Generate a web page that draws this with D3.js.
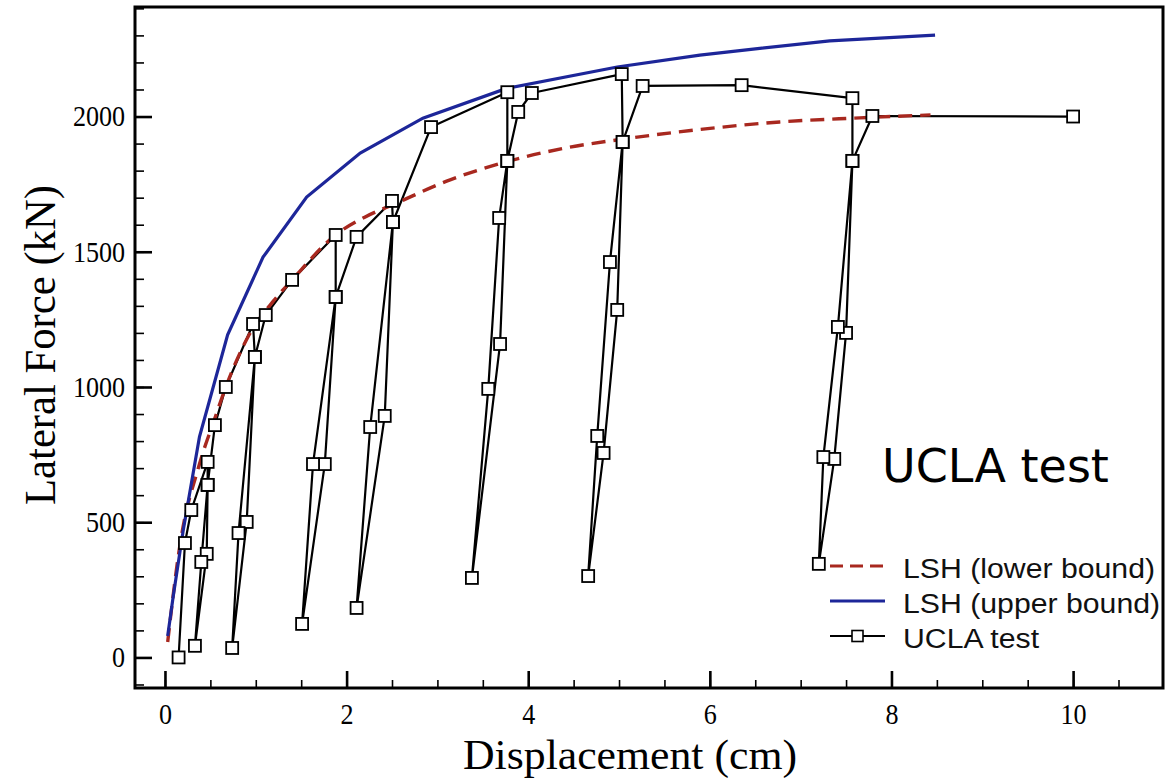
<!DOCTYPE html>
<html>
<head>
<meta charset="utf-8">
<script src="https://cdn.jsdelivr.net/npm/d3@7"></script>
<style>
  body { margin: 0; background: #fff; }
  .axis text { font-family: 'Liberation Serif', 'Times New Roman', serif; font-size: 29px; fill: #000; }
</style>
</head>
<body>
<div id="chart"></div>
<script>
// LSH upper bound (blue)
const upperX = [0.03, 0.09, 0.2, 0.38, 0.69, 1.08, 1.56, 2.15, 2.84, 3.77, 4.98, 5.89, 6.55, 7.32, 8.48]
const upperY = [79, 224, 468, 816, 1193, 1480, 1702, 1865, 1994, 2105, 2183, 2227, 2252, 2280, 2301]

// LSH lower bound (red dashed)
const lowerX = [0.03, 0.16, 0.38, 0.55, 0.67, 0.93, 1.2, 1.4, 1.89, 2.2, 2.55, 3.14, 3.72, 4.43, 5.01, 5.89, 6.77, 7.65, 8.43]
const lowerY = [57, 405, 715, 885, 1000, 1195, 1320, 1396, 1565, 1628, 1680, 1766, 1829, 1885, 1915, 1952, 1980, 1995, 2006]

// UCLA test, in loading order
const testX = [0.15, 0.22, 0.29, 0.47, 0.47, 0.46, 0.33, 0.40, 0.47, 0.55, 0.67, 0.97, 0.99, 0.90, 0.74, 0.81, 0.99, 1.11, 1.40, 1.88,
  1.88, 1.76, 1.51, 1.63, 1.88, 2.11, 2.50, 2.51, 2.42, 2.11, 2.26, 2.51, 2.93, 3.77, 3.77, 3.69, 3.38, 3.56, 3.68, 3.77,
  3.89, 4.04, 5.03, 5.04, 4.98, 4.83, 4.66, 4.76, 4.90, 5.04, 5.26, 6.35, 7.57, 7.57, 7.50, 7.37, 7.20, 7.25, 7.41, 7.57,
  7.79, 10.0]
const testY = [0, 423, 545, 723, 638, 383, 43, 353, 638, 859, 1000, 1233, 1111, 501, 35, 460, 1111, 1266, 1396, 1562,
  1333, 715, 124, 715, 1333, 1555, 1688, 1610, 893, 183, 852, 1610, 1961, 2090, 1836, 1159, 294, 993, 1625, 1836,
  2017, 2087, 2157, 1906, 1285, 756, 301, 819, 1462, 1906, 2113, 2116, 2068, 1836, 1200, 734, 346, 741, 1222, 1836,
  2002, 2000]

const xTicks = [0, 2, 4, 6, 8, 10]
const yTicks = [0, 500, 1000, 1500, 2000]
const legendLabels = ['LSH (lower bound)', 'LSH (upper bound)', 'UCLA test']

const red = '#a8281f'
const blue = '#1d2699'

const width = 1172
const height = 778
const plot = { left: 135, right: 1163, top: 7, bottom: 688 }

const svg = d3
  .select('#chart')
  .append('svg')
  .attr('width', width)
  .attr('height', height)

svg.append('rect').attr('width', width).attr('height', height).attr('fill', '#fff')

const x = d3.scaleLinear().domain([-0.33, 10.99]).range([plot.left, plot.right])
const y = d3.scaleLinear().domain([-113, 2405]).range([plot.bottom, plot.top])

// minor ticks
svg
  .append('g')
  .attr('class', 'axis minor')
  .attr('transform', 'translate(0,' + plot.bottom + ')')
  .call(d3.axisBottom(x).tickValues(d3.range(0, 10.51, 0.5)).tickSize(-8).tickFormat(''))
svg
  .append('g')
  .attr('class', 'axis minor')
  .attr('transform', 'translate(' + plot.left + ',0)')
  .call(d3.axisLeft(y).tickValues(d3.range(-100, 2401, 100)).tickSize(-9).tickFormat(''))
svg.selectAll('.minor line').attr('stroke', '#000').attr('stroke-width', 1.6)
svg.selectAll('.minor text').remove()

// major ticks
const xAxis = d3.axisBottom(x).tickValues(xTicks).tickSizeInner(-17).tickSizeOuter(0).tickPadding(15).tickFormat(d3.format('d'))
svg
  .append('g')
  .attr('class', 'axis x-axis')
  .attr('transform', 'translate(0,' + plot.bottom + ')')
  .call(xAxis)

const yAxis = d3.axisLeft(y).tickValues(yTicks).tickSizeInner(-17).tickSizeOuter(0).tickPadding(11).tickFormat(d3.format('d'))
svg
  .append('g')
  .attr('class', 'axis y-axis')
  .attr('transform', 'translate(' + plot.left + ',0)')
  .call(yAxis)

svg.selectAll('.axis path').remove()
svg.selectAll('.x-axis line, .y-axis line').attr('stroke', '#000').attr('stroke-width', 2.6)
svg.selectAll('.x-axis text, .y-axis text').attr('transform', 'scale(0.9,1)')

// frame
svg
  .append('rect')
  .attr('x', plot.left)
  .attr('y', plot.top)
  .attr('width', plot.right - plot.left)
  .attr('height', plot.bottom - plot.top)
  .attr('fill', 'none')
  .attr('stroke', '#000')
  .attr('stroke-width', 3)

// titles
svg
  .append('text')
  .attr('x', 630)
  .attr('y', 768.5)
  .attr('text-anchor', 'middle')
  .attr('font-family', "'Liberation Serif', serif")
  .attr('font-size', 43)
  .attr('textLength', 334)
  .attr('lengthAdjust', 'spacingAndGlyphs')
  .text('Displacement (cm)')

svg
  .append('text')
  .attr('transform', 'translate(55,345) rotate(-90)')
  .attr('text-anchor', 'middle')
  .attr('font-family', "'Liberation Serif', serif")
  .attr('font-size', 45)
  .attr('textLength', 320)
  .attr('lengthAdjust', 'spacingAndGlyphs')
  .text('Lateral Force (kN)')

// UCLA test line
const test = testX.map((d, i) => ({ x: d, y: testY[i] }))
const line = d3.line().x(d => x(d.x)).y(d => y(d.y))

svg
  .append('path')
  .datum(test)
  .attr('d', line)
  .attr('fill', 'none')
  .attr('stroke', '#000')
  .attr('stroke-width', 2.2)
  .attr('stroke-linejoin', 'round')

// bounds
const lower = lowerX.map((d, i) => ({ x: d, y: lowerY[i] }))
svg
  .append('path')
  .datum(lower)
  .attr('d', line.curve(d3.curveMonotoneX))
  .attr('fill', 'none')
  .attr('stroke', red)
  .attr('stroke-width', 3.4)
  .attr('stroke-dasharray', '14,8')

const upper = upperX.map((d, i) => ({ x: d, y: upperY[i] }))
svg
  .append('path')
  .datum(upper)
  .attr('d', line.curve(d3.curveLinear))
  .attr('fill', 'none')
  .attr('stroke', blue)
  .attr('stroke-width', 3.2)

// markers
const sq = 12
svg
  .selectAll('.marker')
  .data(test)
  .enter()
  .append('rect')
  .attr('class', 'marker')
  .attr('x', d => x(d.x) - sq / 2)
  .attr('y', d => y(d.y) - sq / 2)
  .attr('width', sq)
  .attr('height', sq)
  .attr('fill', '#fff')
  .attr('stroke', '#000')
  .attr('stroke-width', 1.8)

// annotation
svg
  .append('text')
  .attr('x', 882)
  .attr('y', 482)
  .attr('font-family', "'DejaVu Sans', sans-serif")
  .attr('font-size', 46)
  .attr('fill', '#000')
  .text('UCLA test')

// legend
const legend = svg.append('g').attr('transform', 'translate(830,566)')
const rowGap = 35

legend
  .append('line')
  .attr('x1', 0).attr('x2', 55).attr('y1', 0).attr('y2', 0)
  .attr('stroke', red).attr('stroke-width', 3).attr('stroke-dasharray', '13,7')
legend
  .append('line')
  .attr('x1', 0).attr('x2', 55).attr('y1', rowGap).attr('y2', rowGap)
  .attr('stroke', blue).attr('stroke-width', 3)
legend
  .append('line')
  .attr('x1', 0).attr('x2', 55).attr('y1', rowGap * 2).attr('y2', rowGap * 2)
  .attr('stroke', '#000').attr('stroke-width', 2)
legend
  .append('rect')
  .attr('x', 27.5 - 5.5).attr('y', rowGap * 2 - 5.5)
  .attr('width', 11).attr('height', 11)
  .attr('fill', '#fff').attr('stroke', '#000').attr('stroke-width', 1.6)

legend
  .selectAll('.legend-text')
  .data(legendLabels)
  .enter()
  .append('text')
  .attr('class', 'legend-text')
  .attr('transform', (d, i) => 'translate(73,' + (i * rowGap + 12) + ') scale(1.12,1)')
  .attr('font-family', "'Liberation Sans', Arial, sans-serif")
  .attr('font-size', 27)
  .attr('fill', '#111')
  .text(d => d)
</script>
</body>
</html>
